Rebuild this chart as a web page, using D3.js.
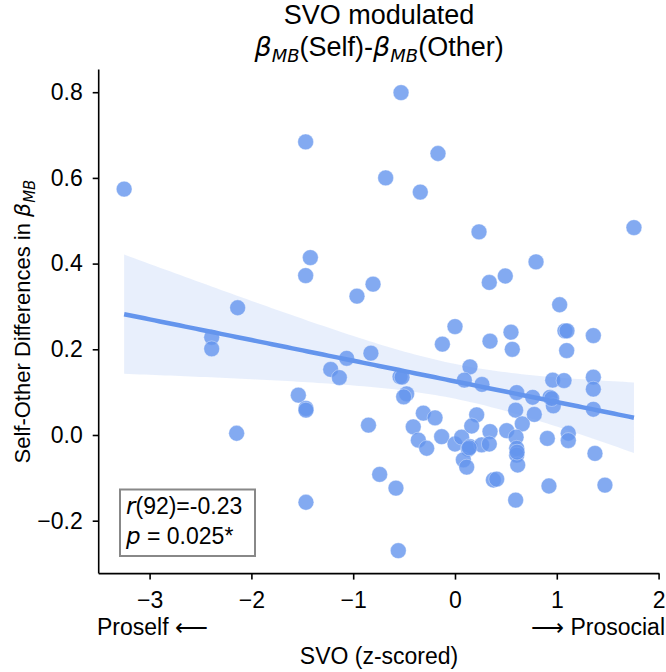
<!DOCTYPE html>
<html>
<head>
<meta charset="utf-8">
<script src="https://cdn.jsdelivr.net/npm/d3@7"></script>
<style>
  body { margin: 0; background: #fff; }
  text { font-family: "Liberation Sans", Arial, sans-serif; fill: #000; }
  .math { font-family: "DejaVu Sans", sans-serif; font-style: italic; }
</style>
</head>
<body>
<script>
  // SVO z-scores and beta_MB(Self)-beta_MB(Other) per participant
  var svo = [-3.25, -2.135, -2.39, -2.39, -2.145, -1.467, -1.421, -1.467, -1.539, -1.464,
    -1.464, -1.464, -1.221, -1.136, -1.064, -0.963, -0.805, -0.826, -0.85, -0.74,
    -0.58, -0.557, -0.53, -0.681, -0.341, -0.167, -0.54, -0.52, -0.475, -0.504,
    -0.311, -0.196, -0.41, -0.36, -0.278, -0.131, -0.124, 0.0, 0.0, 0.065,
    0.147, 0.131, 0.082, 0.115, 0.213, 0.164, 0.262, 0.344, 0.337, 0.508,
    0.147, 0.092, 0.265, 0.236, 0.344, 0.337, 0.494, 0.55, 0.563, 0.377,
    0.41, 0.596, 0.661, 0.6, 0.606, 0.606, 0.616, 0.596, 0.606, 0.763,
    0.779, 0.796, 0.907, 0.923, 0.933, 0.966, 0.96, 1.028, 1.08, 1.1,
    1.097, 1.071, 1.113, 1.113, 1.359, 1.359, 1.359, 1.359, 1.375, 1.473,
    1.758, 0.95, 0.61, 0.14];
  var diffMB = [0.574, 0.297, 0.228, 0.201, 0.004, 0.684, 0.414, 0.372, 0.093, 0.062,
    0.058, -0.157, 0.153, 0.134, 0.179, 0.324, 0.352, 0.191, 0.023, -0.092,
    -0.124, -0.27, 0.799, 0.6, 0.567, 0.657, 0.136, 0.135, 0.096, 0.089,
    0.051, 0.04, 0.019, -0.012, -0.031, -0.004, 0.212, 0.253, -0.021, -0.005,
    -0.027, -0.033, -0.058, -0.075, 0.047, 0.021, -0.023, 0.008, -0.021, 0.01,
    0.159, 0.128, 0.118, 0.474, 0.219, 0.356, 0.371, 0.24, 0.2, -0.105,
    -0.103, 0.058, 0.026, -0.005, -0.031, -0.047, -0.07, -0.152, 0.099, 0.088,
    0.048, 0.404, -0.008, -0.119, 0.088, 0.068, 0.128, 0.304, 0.243, 0.243,
    0.197, 0.127, 0.004, -0.013, 0.232, 0.135, 0.107, 0.06, -0.043, -0.117,
    0.484, 0.085, -0.04, -0.03];
  var xTicks = [-3, -2, -1, 0, 1, 2];
  var yTicks = [-0.2, 0.0, 0.2, 0.4, 0.6, 0.8];
  var statLines = ["r(92)=-0.23", "p = 0.025*"];

  var width = 666, height = 672;
  var margin = {top: 69.5, right: 6.6, bottom: 98.4, left: 98.7};
  var blue = "#6495ED";

  var svg = d3.select('body').append('svg')
    .attr('width', width)
    .attr('height', height);

  var x = d3.scaleLinear().domain([-3.5, 2.008]).range([margin.left, width - margin.right]);
  var y = d3.scaleLinear().domain([-0.3235, 0.853]).range([height - margin.bottom, margin.top]);

  var data = svo.map(function(d, i) { return {x: d, y: diffMB[i]}; });

  // least squares fit with 95% confidence band
  var n = data.length;
  var mx = d3.mean(svo), my = d3.mean(diffMB);
  var sxx = d3.sum(svo, function(d) { return (d - mx) * (d - mx); });
  var sxy = d3.sum(data, function(d) { return (d.x - mx) * (d.y - my); });
  var slope = sxy / sxx, icpt = my - slope * mx;
  var sse = d3.sum(data, function(d) { var e = d.y - (icpt + slope * d.x); return e * e; });
  var s = Math.sqrt(sse / (n - 2)), tcrit = 1.986;
  var xs = d3.range(0, 101).map(function(i) {
    return d3.min(svo) + (d3.max(svo) - d3.min(svo)) * i / 100;
  });
  var band = xs.map(function(v) {
    var f = icpt + slope * v;
    var h = tcrit * s * Math.sqrt(1 / n + (v - mx) * (v - mx) / sxx);
    return {x: v, lo: f - h, hi: f + h, f: f};
  });

  svg.append('path')
    .datum(band)
    .attr('fill', blue)
    .attr('fill-opacity', 0.15)
    .attr('d', d3.area()
      .x(function(d) { return x(d.x); })
      .y0(function(d) { return y(d.lo); })
      .y1(function(d) { return y(d.hi); }));

  svg.selectAll("circle")
    .data(data)
    .enter()
    .append('circle')
      .attr('r', 7.9)
      .attr('cx', function(d) { return x(d.x); })
      .attr('cy', function(d) { return y(d.y); })
      .attr('fill', blue)
      .attr('fill-opacity', 0.8)
      .attr('stroke', '#ffffff')
      .attr('stroke-opacity', 0.35)
      .attr('stroke-width', 1);

  svg.append('path')
    .datum(band)
    .attr('fill', 'none')
    .attr('stroke', blue)
    .attr('stroke-width', 4.5)
    .attr('d', d3.line()
      .x(function(d) { return x(d.x); })
      .y(function(d) { return y(d.f); }));

  // axes
  var xAxis = svg.append('g')
    .attr('transform', 'translate(0,' + (height - margin.bottom) + ')')
    .call(d3.axisBottom(x).tickValues(xTicks).tickSize(6).tickPadding(12)
      .tickFormat(function(d) { return d < 0 ? '\u2212' + Math.abs(d) : d; }));
  var yAxis = svg.append('g')
    .attr('transform', 'translate(' + margin.left + ',0)')
    .call(d3.axisLeft(y).tickValues(yTicks).tickSize(6).tickPadding(10)
      .tickFormat(function(d) { return d < 0 ? '\u2212' + Math.abs(d).toFixed(1) : d.toFixed(1); }));
  [xAxis, yAxis].forEach(function(g) {
    g.select('.domain').attr('stroke', '#000').attr('stroke-width', 1.6)
      .attr('d', g === xAxis
        ? 'M' + margin.left + ',0H' + (width - margin.right)
        : 'M0,' + margin.top + 'V' + (height - margin.bottom));
    g.selectAll('.tick line').attr('stroke', '#000').attr('stroke-width', 1.6);
    g.selectAll('.tick text').style('font-family', '"Liberation Sans", Arial, sans-serif')
      .style('font-size', '23px').attr('fill', '#000');
  });

  // axis labels
  svg.append('text')
    .attr('x', (margin.left + width - margin.right) / 2)
    .attr('y', 664)
    .attr('text-anchor', 'middle')
    .style('font-size', '23px')
    .text('SVO (z-scored)');
  svg.append('text')
    .attr('x', 97).attr('y', 635)
    .style('font-size', '23px')
    .text('Proself \u27F5');
  svg.append('text')
    .attr('x', 665).attr('y', 635)
    .attr('text-anchor', 'end')
    .style('font-size', '23px')
    .text('\u27F6 Prosocial');

  var yl = svg.append('text')
    .attr('transform', 'translate(30,' + ((margin.top + height - margin.bottom) / 2) + ') rotate(-90)')
    .attr('text-anchor', 'middle')
    .style('font-size', '22px');
  yl.append('tspan').text('Self-Other Differences in ');
  yl.append('tspan').attr('class', 'math').text('\u03B2');
  yl.append('tspan').attr('class', 'math').attr('dy', 5).style('font-size', '15px').text('MB');

  // title
  var cx = (margin.left + width - margin.right) / 2;
  svg.append('text')
    .attr('x', cx).attr('y', 24)
    .attr('text-anchor', 'middle')
    .style('font-size', '27px')
    .text('SVO modulated');
  var t2 = svg.append('text')
    .attr('x', cx).attr('y', 56)
    .attr('text-anchor', 'middle')
    .style('font-size', '27px');
  t2.append('tspan').attr('class', 'math').text('\u03B2');
  t2.append('tspan').attr('class', 'math').attr('dy', 6).style('font-size', '18px').text('MB');
  t2.append('tspan').attr('dy', -6).text('(Self)-');
  t2.append('tspan').attr('class', 'math').text('\u03B2');
  t2.append('tspan').attr('class', 'math').attr('dy', 6).style('font-size', '18px').text('MB');
  t2.append('tspan').attr('dy', -6).text('(Other)');

  // stats box
  var box = svg.append('g');
  box.append('rect')
    .attr('x', 120).attr('y', 489.5)
    .attr('width', 135).attr('height', 66.5)
    .attr('fill', '#fff')
    .attr('stroke', '#888')
    .attr('stroke-width', 2);
  var l1 = box.append('text').attr('x', 126).attr('y', 514).style('font-size', '23px');
  l1.append('tspan').attr('class', 'math').text(statLines[0].slice(0, 1));
  l1.append('tspan').text(statLines[0].slice(1));
  var l2 = box.append('text').attr('x', 126).attr('y', 544).style('font-size', '23px');
  l2.append('tspan').attr('class', 'math').text(statLines[1].slice(0, 1));
  l2.append('tspan').text(statLines[1].slice(1));
</script>
</body>
</html>
